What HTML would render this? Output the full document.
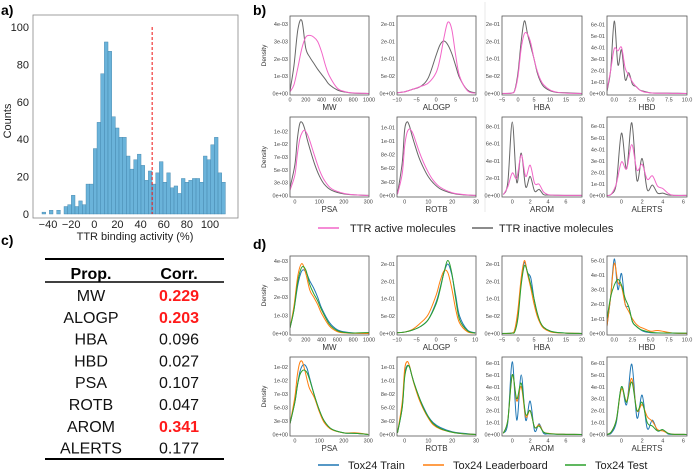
<!DOCTYPE html>
<html><head><meta charset="utf-8"><style>
body{margin:0;background:#fff;}
svg{display:block;font-family:"Liberation Sans",sans-serif;}
</style></head><body>
<svg id="fig" width="693" height="470" viewBox="0 0 693 470" xmlns="http://www.w3.org/2000/svg">
<text x="1" y="15" font-size="14" font-weight="bold">a)</text>
<text x="253" y="15" font-size="14" font-weight="bold">b)</text>
<text x="1" y="245" font-size="14" font-weight="bold">c)</text>
<text x="253" y="249" font-size="14" font-weight="bold">d)</text>
<line x1="485" y1="2" x2="485" y2="212" stroke="#e4e4e4" stroke-width="0.8"/>
<g id="panelA"></g>
<g id="panelB"></g>
<g id="panelC">
<line x1="45" y1="259" x2="224" y2="259" stroke="#000" stroke-width="2"/>
<line x1="45" y1="282" x2="224" y2="282" stroke="#000" stroke-width="1.5"/>
<line x1="45" y1="459" x2="224" y2="459" stroke="#000" stroke-width="2"/>
<text x="91" y="279" font-size="16" font-weight="bold" text-anchor="middle">Prop.</text>
<text x="179" y="279" font-size="16" font-weight="bold" text-anchor="middle">Corr.</text>
</g>
<g id="panelD"></g>
</svg>
<script>
// ---------- Panel a data ----------
const histCounts=[1,0,2,0,2,0,4,5,10,4,7,5,16,16,35,49,75,92,87,52,46,41,41,31,24,29,32,26,18,23,16,22,28,17,22,14,15,11,19,17,18,19,19,17,31,29,37,41,22,17];
const histStart=-45.2;
const histBinWidth=3.17;
const histXTicks=[-40,-20,0,20,40,60,80,100];
const histYTicks=[0,20,40,60,80,100];
const thresholdValue=50;
// ---------- Panel c data ----------
const tableProps=["MW","ALOGP","HBA","HBD","PSA","ROTB","AROM","ALERTS"];
const tableCorr=["0.229","0.203","0.096","0.027","0.107","0.047","0.341","0.177"];
const tableHighlight=[true,true,false,false,false,false,true,false];
// ---------- Density x samples ----------
const xMW=[0,50,100,150,200,250,300,350,400,450,500,600,700,800,1000];
const xALOGP=[-10,-8,-6,-4,-2,0,1,2,3,4,5,6,8,10];
const xHBA=[-5,-2,-1,0,1,2,3,4,5,6,7,8,10,12,15,20];
const xHBD=[-1,-0.5,0,0.5,1,1.5,2,2.5,3,3.5,4,5,6,8,10];
const xPSA=[-20,0,10,20,30,40,50,60,80,100,120,150,200,250,300];
const xROTB=[-3,-1,0,1,2,3,4,6,8,10,12,15,20,25,30];
const xAROM=[-1,-0.5,0,0.5,1,1.5,2,2.5,3,3.5,4,5,6,8];
const xALERTS=[-1.4,-1,-0.5,0,0.5,1,1.5,2,2.5,3,3.5,4,4.5,5,6.3];
const xMWd=[0,50,100,150,200,250,300,350,400,500,600,700,800,1000];
// ---------- Panel b series (active / inactive) ----------
const bMWActive=[0.1e-3,0.5e-3,1.5e-3,2.6e-3,3.25e-3,3.35e-3,3.25e-3,3.0e-3,2.4e-3,1.6e-3,1.0e-3,0.3e-3,0.1e-3,0.03e-3,0];
const bMWInactive=[0.15e-3,1.6e-3,3.7e-3,4.2e-3,2.6e-3,2.1e-3,1.75e-3,1.4e-3,1.1e-3,0.8e-3,0.5e-3,0.2e-3,0.08e-3,0.02e-3,0];
const bALOGPActive=[0.002,0.005,0.012,0.02,0.03,0.06,0.1,0.16,0.205,0.185,0.11,0.05,0.008,0.001];
const bALOGPInactive=[0.002,0.005,0.012,0.02,0.045,0.11,0.14,0.151,0.14,0.115,0.08,0.045,0.01,0.002];
const bHBAActive=[0,0.001,0.008,0.05,0.13,0.172,0.17,0.145,0.1,0.065,0.04,0.025,0.01,0.004,0.001,0];
const bHBAInactive=[0,0.001,0.01,0.06,0.15,0.209,0.17,0.135,0.1,0.06,0.035,0.02,0.008,0.003,0.002,0];
const bHBDActive=[0.03,0.2,0.39,0.37,0.4,0.22,0.16,0.1,0.06,0.03,0.015,0.005,0.002,0.001,0];
const bHBDInactive=[0.02,0.2,0.63,0.25,0.38,0.12,0.18,0.08,0.06,0.03,0.02,0.005,0.003,0.002,0];
const bPSAActive=[0.001,0.004,0.008,0.011,0.0123,0.0127,0.012,0.0108,0.0078,0.005,0.003,0.0013,0.0004,0.0001,0];
const bPSAInactive=[0.0015,0.006,0.011,0.014,0.0142,0.013,0.011,0.0093,0.0062,0.0038,0.0022,0.001,0.0003,0.0001,0];
const bROTBActive=[0.002,0.04,0.09,0.115,0.122,0.118,0.108,0.082,0.06,0.042,0.028,0.015,0.005,0.0015,0];
const bROTBInactive=[0.003,0.06,0.12,0.135,0.128,0.112,0.097,0.07,0.05,0.034,0.023,0.012,0.004,0.001,0];
const bAROMActive=[0.01,0.1,0.26,0.2,0.47,0.22,0.35,0.14,0.13,0.04,0.01,0.002,0.001,0];
const bAROMInactive=[0.01,0.15,0.85,0.15,0.49,0.1,0.22,0.05,0.07,0.01,0.005,0.002,0.001,0];
const bALERTSActive=[0,0.01,0.1,0.29,0.23,0.44,0.22,0.27,0.14,0.17,0.08,0.06,0.02,0.002,0];
const bALERTSInactive=[0,0.01,0.1,0.54,0.23,0.63,0.13,0.32,0.05,0.09,0.02,0.02,0.005,0.001,0];
// ---------- Panel d series (train / leaderboard / test) ----------
const dMWTrain=[0.3e-3,1.3e-3,2.7e-3,3.45e-3,3.4e-3,2.9e-3,2.5e-3,2.0e-3,1.4e-3,0.6e-3,0.2e-3,0.08e-3,0.03e-3,0];
const dMWLeader=[0.3e-3,1.5e-3,3.2e-3,3.85e-3,3.3e-3,2.4e-3,2.0e-3,1.6e-3,1.1e-3,0.4e-3,0.1e-3,0.03e-3,0.01e-3,0];
const dMWTest=[0.3e-3,1.3e-3,2.9e-3,3.65e-3,3.5e-3,2.7e-3,2.2e-3,1.8e-3,1.3e-3,0.5e-3,0.15e-3,0.05e-3,0.02e-3,0.05e-3];
const dALOGPTrain=[0.002,0.004,0.01,0.02,0.04,0.09,0.13,0.175,0.2,0.17,0.11,0.05,0.01,0.002];
const dALOGPLeader=[0.002,0.004,0.012,0.03,0.055,0.11,0.15,0.18,0.175,0.13,0.07,0.03,0.005,0.001];
const dALOGPTest=[0.002,0.004,0.01,0.02,0.04,0.085,0.125,0.175,0.21,0.175,0.1,0.04,0.008,0.001];
const dHBATrain=[0,0.001,0.01,0.06,0.15,0.205,0.175,0.16,0.1,0.055,0.03,0.018,0.007,0.003,0.001,0];
const dHBALeader=[0,0.001,0.012,0.07,0.16,0.21,0.17,0.13,0.085,0.05,0.028,0.015,0.005,0.002,0.001,0];
const dHBATest=[0,0.001,0.005,0.045,0.14,0.195,0.175,0.14,0.1,0.06,0.032,0.018,0.007,0.003,0.001,0];
const dHBDTrain=[0.05,0.25,0.51,0.3,0.41,0.2,0.18,0.08,0.05,0.03,0.015,0.005,0.003,0.002,0];
const dHBDLeader=[0.05,0.25,0.48,0.35,0.32,0.2,0.15,0.1,0.065,0.045,0.035,0.015,0.02,0.003,0];
const dHBDTest=[0.1,0.25,0.33,0.37,0.33,0.24,0.18,0.08,0.05,0.03,0.02,0.008,0.004,0.003,0.002];
const dPSATrain=[0.002,0.006,0.009,0.0115,0.0127,0.0129,0.0122,0.0105,0.0072,0.0045,0.0025,0.001,0.0003,0.0002,0];
const dPSALeader=[0.002,0.007,0.011,0.0133,0.0135,0.012,0.0101,0.0085,0.0068,0.0042,0.0022,0.0009,0.0003,0.0003,0];
const dPSATest=[0.002,0.006,0.009,0.011,0.0118,0.0119,0.0114,0.0102,0.0072,0.0045,0.0025,0.001,0.0003,0.0002,0];
const dROTBTrain=[0.003,0.05,0.11,0.127,0.125,0.11,0.095,0.07,0.05,0.033,0.022,0.013,0.005,0.002,0];
const dROTBLeader=[0.003,0.06,0.12,0.135,0.128,0.11,0.093,0.066,0.046,0.03,0.018,0.01,0.004,0.001,0];
const dROTBTest=[0.003,0.05,0.105,0.125,0.126,0.11,0.095,0.07,0.048,0.032,0.02,0.011,0.004,0.001,0];
const dAROMTrain=[0.01,0.1,0.61,0.12,0.5,0.12,0.28,0.03,0.09,0.01,0.005,0.002,0.001,0];
const dAROMLeader=[0.01,0.12,0.5,0.28,0.4,0.15,0.2,0.06,0.08,0.02,0.01,0.003,0.001,0];
const dAROMTest=[0.01,0.12,0.5,0.3,0.43,0.17,0.2,0.06,0.07,0.02,0.008,0.002,0.001,0];
const dALERTSTrain=[0,0.01,0.1,0.4,0.25,0.59,0.14,0.33,0.05,0.12,0.03,0.04,0.005,0.001,0];
const dALERTSLeader=[0,0.02,0.12,0.38,0.28,0.47,0.2,0.25,0.15,0.11,0.04,0.03,0.01,0.002,0];
const dALERTSTest=[0,0.02,0.12,0.4,0.27,0.44,0.2,0.27,0.1,0.07,0.03,0.04,0.01,0.002,0];
// ---------- Tick labels ----------
const xtMW=[0,200,400,600,800,1000], xtALOGP=[-10,-5,0,5,10], xtHBA=[-5,0,5,10,15,20];
const xtHBD=[0,2.5,5,7.5,10], xtHBDLabels=["0.0","2.5","5.0","7.5","10.0"];
const xtPSA=[0,100,200,300], xtROTB=[0,10,20,30], xtAROM=[0,2,4,6,8], xtALERTS=[0,2,4,6];

const NS="http://www.w3.org/2000/svg";
function mk(parent,tag,attrs,text){const e=document.createElementNS(NS,tag);for(const k in attrs)e.setAttribute(k,attrs[k]);if(text!==undefined)e.textContent=text;parent.appendChild(e);return e;}

// ---------- Panel a ----------
(function(){
const g=document.getElementById('panelA');
const L=33,R=238,T=15,B=218;
const xs=v=>94.3+(v)*1.157, ys=v=>214-v*1.87;
for(let i=0;i<histCounts.length;i++){
  const x0=xs(histStart+i*histBinWidth), x1=xs(histStart+(i+1)*histBinWidth);
  if(histCounts[i]===0)continue;
  const r=mk(g,'rect',{x:x0,y:ys(histCounts[i]),width:x1-x0,height:ys(0)-ys(histCounts[i]),fill:'#6ab3da',stroke:'#3d7fa6','stroke-width':0.4});
  
  
}
const th=mk(g,'line',{x1:xs(thresholdValue),x2:xs(thresholdValue),y1:ys(100),y2:ys(0),stroke:'#ee1111','stroke-width':1,'stroke-dasharray':'3,2'});


const fr=mk(g,'rect',{x:L,y:T,width:R-L,height:B-T,fill:'none',stroke:'#888','stroke-width':0.8});


histYTicks.forEach(v=>{
  const t=mk(g,'text',{x:L-4,y:ys(v)+4,'font-size':11,'text-anchor':'end',fill:'#222'},v);
  
  
});
histXTicks.forEach(v=>{
  const t=mk(g,'text',{x:xs(v),y:B+10,'font-size':11,'text-anchor':'middle',fill:'#222'},v<0?'\u2212'+(-v):v);
  
  
});
const yl=mk(g,'text',{x:0,y:0,'font-size':11,'text-anchor':'middle',fill:'#222',transform:'translate(11,121) rotate(-90)'},'Counts');


const xl=mk(g,'text',{x:135,y:240,'font-size':11,'text-anchor':'middle',fill:'#222'},'TTR binding activity (%)');


})();

// ---------- Panel c ----------
(function(){
const g=document.getElementById('panelC');
tableProps.forEach((p,i)=>{
  const y=301+i*21.8;
  const a=mk(g,'text',{x:91,y:y,'font-size':16,'text-anchor':'middle',fill:'#111'},p);
  
  
  const b=mk(g,'text',{x:179,y:y,'font-size':16,'text-anchor':'middle',fill:tableHighlight[i]?'#ff1a1a':'#111','font-weight':tableHighlight[i]?'bold':'normal'},tableCorr[i]);
  
  
});
})();

// ---------- Density subplots ----------
const colX=[[290,369],[397,476],[502,582],[607,687]];
function smoothPath(px,py){
  let d='M'+px[0].toFixed(2)+','+py[0].toFixed(2);
  for(let i=0;i<px.length-1;i++){
    const x0=px[Math.max(i-1,0)],y0=py[Math.max(i-1,0)],x1=px[i],y1=py[i],x2=px[i+1],y2=py[i+1],x3=px[Math.min(i+2,px.length-1)],y3=py[Math.min(i+2,px.length-1)];
    const c1x=x1+(x2-x0)/6,c1y=y1+(y2-y0)/6,c2x=x2-(x3-x1)/6,c2y=y2-(y3-y1)/6;
    d+=' C'+c1x.toFixed(2)+','+c1y.toFixed(2)+' '+c2x.toFixed(2)+','+c2y.toFixed(2)+' '+x2.toFixed(2)+','+y2.toFixed(2);
  }
  return d;
}
function subplot(g,name,col,top,bot,xlim,ymax,xticks,xtickLabels,yticks,ytickLabels,xlabel,xsData,series,showYLabel){
  const L=colX[col][0],R=colX[col][1];
  const ymin=-0.02*ymax;
  const sx=v=>L+(v-xlim[0])/(xlim[1]-xlim[0])*(R-L);
  const sy=v=>bot-(v-ymin)/(ymax-ymin)*(bot-top);
  const sg=mk(g,'g',{});
  
  
  const cp='clip-'+name;
  const cl=mk(sg,'clipPath',{id:cp});mk(cl,'rect',{x:L,y:top,width:R-L,height:bot-top});
  series.forEach(s=>{
    const px=xsData.map(sx), py=s.vals.map(sy);
    const p=mk(sg,'path',{d:smoothPath(px,py),fill:'none',stroke:s.color,'stroke-width':1,'clip-path':'url(#'+cp+')'});
    
    
  });
  const fr=mk(sg,'rect',{x:L,y:top,width:R-L,height:bot-top,fill:'none',stroke:'#555','stroke-width':0.8});
  
  
  xticks.forEach((v,i)=>{
    const t=mk(sg,'text',{x:sx(v),y:bot+6.5,'font-size':5.5,'text-anchor':'middle',fill:'#444'},xtickLabels[i]);
    
    
  });
  yticks.forEach((v,i)=>{
    const t=mk(sg,'text',{x:L-2,y:sy(v)+2,'font-size':5.5,'text-anchor':'end',fill:'#444'},ytickLabels[i]);
    
    
  });
  const xl=mk(sg,'text',{x:(L+R)/2,y:bot+15,'font-size':8,'text-anchor':'middle',fill:'#333'},xlabel);
  
  
  if(showYLabel){
    const yl=mk(sg,'text',{x:0,y:0,'font-size':6.5,'text-anchor':'middle',fill:'#333',transform:'translate(266,'+((top+bot)/2)+') rotate(-90)'},'Density');
    
    
  }
}
const neg=a=>a.map(v=>v<0?'\u2212'+(-v):''+v);
function drawPanel(g,rows,S){
  const [r1t,r1b,r2t,r2b]=rows;
  subplot(g,'mw-'+S.id,0,r1t,r1b,[0,1000],S.mw.ymax,xtMW,neg(xtMW),S.mw.yt,S.mw.yl,'MW',S.mw.x,S.mw.s,true);
  subplot(g,'alogp-'+S.id,1,r1t,r1b,[-10,10.2],S.alogp.ymax,xtALOGP,neg(xtALOGP),[0,0.05,0.1,0.15,0.2],['0e+00','5e-02','1e-01','2e-01','2e-01'],'ALOGP',xALOGP,S.alogp.s,false);
  subplot(g,'hba-'+S.id,2,r1t,r1b,[-5,20],S.hba.ymax,xtHBA,neg(xtHBA),[0,0.05,0.1,0.15,0.2],['0e+00','5e-02','1e-01','2e-01','2e-01'],'HBA',xHBA,S.hba.s,false);
  subplot(g,'hbd-'+S.id,3,r1t,r1b,[-1,10],S.hbd.ymax,xtHBD,xtHBDLabels,S.hbd.yt,S.hbd.yl,'HBD',xHBD,S.hbd.s,false);
  subplot(g,'psa-'+S.id,0,r2t,r2b,[-20,303],S.psa.ymax,xtPSA,neg(xtPSA),[0,0.0025,0.005,0.0075,0.01,0.0125],['0e+00','3e-03','5e-03','7e-03','1e-02','1e-02'],'PSA',xPSA,S.psa.s,true);
  subplot(g,'rotb-'+S.id,1,r2t,r2b,[-3.2,30],S.rotb.ymax,xtROTB,neg(xtROTB),[0,0.025,0.05,0.075,0.1,0.125],['0e+00','3e-02','5e-02','8e-02','1e-01','1e-01'],'ROTB',xROTB,S.rotb.s,false);
  subplot(g,'arom-'+S.id,2,r2t,r2b,[-1.15,7.8],S.arom.ymax,xtAROM,neg(xtAROM),S.arom.yt,S.arom.yl,'AROM',xAROM,S.arom.s,false);
  subplot(g,'alerts-'+S.id,3,r2t,r2b,[-1.4,6.35],S.alerts.ymax,xtALERTS,neg(xtALERTS),S.alerts.yt,S.alerts.yl,'ALERTS',xALERTS,S.alerts.s,false);
}
const PINK='#f266c8',GRAY='#666',BLUE='#1f77b4',ORANGE='#ff7f0e',GREEN='#2ca02c';
const s2=(a,b)=>[{key:'inactive',color:GRAY,vals:b},{key:'active',color:PINK,vals:a}];
const s3=(a,b,c)=>[{key:'train',color:BLUE,vals:a},{key:'leaderboard',color:ORANGE,vals:b},{key:'test',color:GREEN,vals:c}];
const t01=[0,0.1,0.2,0.3,0.4,0.5,0.6],l01=['0e+00','1e-01','2e-01','3e-01','4e-01','5e-01','6e-01'];
drawPanel(document.getElementById('panelB'),[16,95,117,197],{id:'b',
  mw:{ymax:4.47e-3,yt:[0,1e-3,2e-3,3e-3,4e-3],yl:['0e+00','1e-03','2e-03','3e-03','4e-03'],x:xMW,s:s2(bMWActive,bMWInactive)},
  alogp:{ymax:0.223,s:s2(bALOGPActive,bALOGPInactive)},
  hba:{ymax:0.223,s:s2(bHBAActive,bHBAInactive)},
  hbd:{ymax:0.674,yt:t01,yl:l01,s:s2(bHBDActive,bHBDInactive)},
  psa:{ymax:0.0153,s:s2(bPSAActive,bPSAInactive)},
  rotb:{ymax:0.144,s:s2(bROTBActive,bROTBInactive)},
  arom:{ymax:0.908,yt:[0,0.2,0.4,0.6,0.8],yl:['0e+00','2e-01','4e-01','6e-01','8e-01'],s:s2(bAROMActive,bAROMInactive)},
  alerts:{ymax:0.68,yt:t01,yl:l01,s:s2(bALERTSActive,bALERTSInactive)}
});
drawPanel(document.getElementById('panelD'),[256,335,357,436],{id:'d',
  mw:{ymax:4.27e-3,yt:[0,1e-3,2e-3,3e-3,4e-3],yl:['0e+00','1e-03','2e-03','3e-03','4e-03'],x:xMWd,s:s3(dMWTrain,dMWLeader,dMWTest)},
  alogp:{ymax:0.223,s:s3(dALOGPTrain,dALOGPLeader,dALOGPTest)},
  hba:{ymax:0.223,s:s3(dHBATrain,dHBALeader,dHBATest)},
  hbd:{ymax:0.53,yt:[0,0.1,0.2,0.3,0.4,0.5],yl:['0e+00','1e-01','2e-01','3e-01','4e-01','5e-01'],s:s3(dHBDTrain,dHBDLeader,dHBDTest)},
  psa:{ymax:0.01435,s:s3(dPSATrain,dPSALeader,dPSATest)},
  rotb:{ymax:0.1435,s:s3(dROTBTrain,dROTBLeader,dROTBTest)},
  arom:{ymax:0.65,yt:t01,yl:l01,s:s3(dAROMTrain,dAROMLeader,dAROMTest)},
  alerts:{ymax:0.65,yt:t01,yl:l01,s:s3(dALERTSTrain,dALERTSLeader,dALERTSTest)}
});
// ---------- Legends ----------
function legendEntry(g,x,tx,y,color,label,name){
  const e=mk(g,'g',{});
  
  
  mk(e,'line',{x1:x,x2:x+21,y1:y,y2:y,stroke:color,'stroke-width':1.6});
  mk(e,'text',{x:tx,y:y+4,'font-size':11,fill:'#222'},label);
}
const svg=document.getElementById('fig');
legendEntry(svg,318,350,228,PINK,'TTR active molecules','legend-entry-active');
legendEntry(svg,472,499,228,GRAY,'TTR inactive molecules','legend-entry-inactive');
legendEntry(svg,318,348,465,BLUE,'Tox24 Train','legend-entry-train');
legendEntry(svg,423,453,465,ORANGE,'Tox24 Leaderboard','legend-entry-leaderboard');
legendEntry(svg,565,595,465,GREEN,'Tox24 Test','legend-entry-test');
</script>
</body></html>
